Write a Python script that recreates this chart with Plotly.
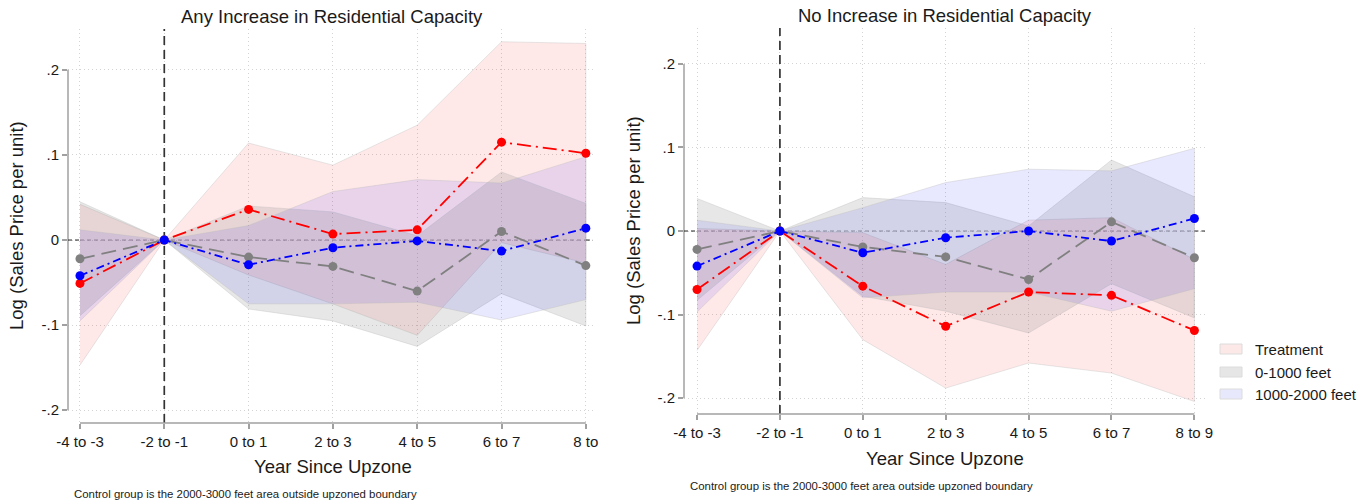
import plotly.graph_objects as go

W, H = 1369, 504

# ---------------- data ----------------
idx = [0, 1, 2, 3, 4, 5, 6]
labels_left = ["-4 to -3", "-2 to -1", "0 to 1", "2 to 3", "4 to 5", "6 to 7", "8 to"]
labels_right = ["-4 to -3", "-2 to -1", "0 to 1", "2 to 3", "4 to 5", "6 to 7", "8 to 9"]
y_tickvals = [-0.2, -0.1, 0, 0.1, 0.2]
y_ticktext = ["-.2", "-.1", "0", ".1", ".2"]

# Any Increase in Residential Capacity
any_treat = [-0.051, 0, 0.036, 0.007, 0.012, 0.115, 0.102]
any_treat_lo = [-0.147, 0, -0.041, -0.075, -0.112, -0.003, -0.027]
any_treat_hi = [0.042, 0, 0.114, 0.088, 0.135, 0.233, 0.231]
any_near = [-0.022, 0, -0.020, -0.031, -0.060, 0.010, -0.030]
any_near_lo = [-0.089, 0, -0.081, -0.095, -0.125, -0.063, -0.101]
any_near_hi = [0.045, 0, 0.040, 0.033, 0.005, 0.080, 0.043]
any_mid = [-0.042, 0, -0.029, -0.009, -0.001, -0.013, 0.014]
any_mid_lo = [-0.095, 0, -0.075, -0.075, -0.073, -0.094, -0.070]
any_mid_hi = [0.012, 0, 0.017, 0.057, 0.071, 0.067, 0.098]

# No Increase in Residential Capacity
no_treat = [-0.070, 0, -0.066, -0.114, -0.073, -0.077, -0.119]
no_treat_lo = [-0.143, 0, -0.130, -0.188, -0.158, -0.170, -0.204]
no_treat_hi = [0.003, 0, -0.002, -0.040, 0.013, 0.016, -0.034]
no_near = [-0.022, 0, -0.019, -0.031, -0.058, 0.011, -0.032]
no_near_lo = [-0.083, 0, -0.078, -0.096, -0.122, -0.063, -0.104]
no_near_hi = [0.039, 0, 0.040, 0.034, 0.006, 0.085, 0.041]
no_mid = [-0.042, 0, -0.026, -0.008, 0.000, -0.012, 0.015]
no_mid_lo = [-0.097, 0, -0.080, -0.073, -0.073, -0.096, -0.069]
no_mid_hi = [0.013, 0, 0.028, 0.058, 0.074, 0.072, 0.099]

series_names = ["Treatment", "0-1000 feet", "1000-2000 feet"]
line_colors = ["#ff0000", "#808080", "#0000ff"]
fill_colors = ["rgba(250,0,0,0.09)", "rgba(128,128,128,0.19)", "rgba(0,0,255,0.09)"]
legend_patch = ["#fde8e8", "#e6e6e6", "#e8e8fd"]
dashes = ["14px,5px,2px,5px", "15px,7px", "8px,4px,2px,4px"]

FONT = "Liberation Sans, Arial, sans-serif"
TXT = "#1a1a1a"


def px_x(p):
    return p / W


def px_y(p):
    return 1 - p / H


left_x = (68, 593)
left_y = (29, 423)
right_x = (684, 1205)
right_y = (28, 414)
xr_left = [-0.142, 6.085]
yr_left = [-0.215, 0.248]
xr_right = [-0.157, 6.128]
yr_right = [-0.219, 0.243]

fig = go.Figure()

panels = [
    ("x", "y", yr_left, [(any_treat, any_treat_lo, any_treat_hi),
                         (any_near, any_near_lo, any_near_hi),
                         (any_mid, any_mid_lo, any_mid_hi)]),
    ("x2", "y2", yr_right, [(no_treat, no_treat_lo, no_treat_hi),
                            (no_near, no_near_lo, no_near_hi),
                            (no_mid, no_mid_lo, no_mid_hi)]),
]

for xa, ya, yr, data in panels:
    # reference lines (drawn above the grid, below the data)
    fig.add_trace(go.Scatter(x=[idx[0], idx[-1]], y=[0, 0], xaxis=xa, yaxis=ya,
                             mode="lines", hoverinfo="skip", showlegend=False,
                             line=dict(color="#9a9a9a", width=1, dash="4px,3px")))
    fig.add_trace(go.Scatter(x=[idx[1], idx[1]], y=yr, xaxis=xa, yaxis=ya,
                             mode="lines", hoverinfo="skip", showlegend=False,
                             line=dict(color="#333333", width=1.7, dash="9px,5px")))
    # bands
    for k, (mid, lo, hi) in enumerate(data):
        fig.add_trace(go.Scatter(
            x=idx + idx[::-1], y=hi + lo[::-1], xaxis=xa, yaxis=ya,
            fill="toself", fillcolor=fill_colors[k],
            line=dict(color="rgba(185,185,185,0.35)", width=1),
            mode="lines", hoverinfo="skip", showlegend=False,
        ))
    # lines
    for k, (mid, lo, hi) in enumerate(data):
        fig.add_trace(go.Scatter(
            x=idx, y=mid, xaxis=xa, yaxis=ya, mode="lines+markers",
            line=dict(color=line_colors[k], width=1.8, dash=dashes[k]),
            marker=dict(color=line_colors[k], size=9),
            name=series_names[k], showlegend=False,
        ))

axis_common = dict(
    showgrid=True, gridcolor="#d4d4d4", griddash="1px,3px", gridwidth=1,
    zeroline=False, showline=False, ticks="outside", ticklen=5,
    tickcolor="#a0a0a0", tickwidth=1.5, automargin=False,
    tickfont=dict(family=FONT, size=15, color=TXT),
)

fig.update_layout(
    width=W, height=H, margin=dict(l=0, r=0, t=0, b=0, autoexpand=False),
    plot_bgcolor="white", paper_bgcolor="white", showlegend=False,
    xaxis=dict(domain=[px_x(left_x[0]), px_x(left_x[1])], range=xr_left,
               tickvals=idx, ticktext=labels_left, anchor="y", **axis_common),
    yaxis=dict(domain=[px_y(left_y[1]), px_y(left_y[0])], range=yr_left,
               tickvals=y_tickvals, ticktext=y_ticktext, anchor="x", **axis_common),
    xaxis2=dict(domain=[px_x(right_x[0]), px_x(right_x[1])], range=xr_right,
                tickvals=idx, ticktext=labels_right, anchor="y2", **axis_common),
    yaxis2=dict(domain=[px_y(right_y[1]), px_y(right_y[0])], range=yr_right,
                tickvals=y_tickvals, ticktext=y_ticktext, anchor="x2", **axis_common),
)

shapes = []
for xa, ya, xr in [("x", "y", xr_left), ("x2", "y2", xr_right)]:
    # axis lines spanning the tick range
    shapes.append(dict(type="line", xref=xa + " domain", x0=0, x1=0, yref=ya,
                       y0=-0.2, y1=0.2, line=dict(color="#a0a0a0", width=1.5)))
    shapes.append(dict(type="line", xref=xa, x0=0, x1=6, yref=ya + " domain",
                       y0=0, y1=0, line=dict(color="#a0a0a0", width=1.5)))
    # dark ends of the zero reference line
    shapes.append(dict(type="line", xref=xa, x0=xr[0], x1=0, yref=ya, y0=0, y1=0,
                       line=dict(color="#222222", width=1, dash="4px,3px")))
    shapes.append(dict(type="line", xref=xa, x0=6, x1=xr[1], yref=ya, y0=0, y1=0,
                       line=dict(color="#222222", width=1, dash="4px,3px")))

# manual legend
leg_rows = [349, 372, 394]
for k, yy in enumerate(leg_rows):
    shapes.append(dict(type="rect", xref="paper", yref="paper",
                       x0=px_x(1220), x1=px_x(1242), y0=px_y(yy + 5), y1=px_y(yy - 5),
                       fillcolor=legend_patch[k], line=dict(color="#dcdcdc", width=1)))

annotations = []
for k, yy in enumerate(leg_rows):
    annotations.append(dict(x=px_x(1253), y=px_y(yy), xref="paper", yref="paper",
                            text=series_names[k], showarrow=False, xanchor="left",
                            yanchor="middle", font=dict(family=FONT, size=15, color=TXT)))

annotations += [
    dict(x=px_x(332), y=px_y(16), text="Any Increase in Residential Capacity",
         font=dict(family=FONT, size=18.5, color=TXT)),
    dict(x=px_x(945), y=px_y(15), text="No Increase in Residential Capacity",
         font=dict(family=FONT, size=18.5, color=TXT)),
    dict(x=px_x(17), y=px_y(226), text="Log (Sales Price per unit)", textangle=-90,
         font=dict(family=FONT, size=18.5, color=TXT)),
    dict(x=px_x(633), y=px_y(221), text="Log (Sales Price per unit)", textangle=-90,
         font=dict(family=FONT, size=18.5, color=TXT)),
    dict(x=px_x(333), y=px_y(466), text="Year Since Upzone",
         font=dict(family=FONT, size=18.5, color=TXT)),
    dict(x=px_x(945), y=px_y(458), text="Year Since Upzone",
         font=dict(family=FONT, size=18.5, color=TXT)),
    dict(x=px_x(72), y=px_y(494), xanchor="left",
         text="Control group is the 2000-3000 feet area outside upzoned boundary",
         font=dict(family=FONT, size=11.4, color=TXT)),
    dict(x=px_x(688), y=px_y(486), xanchor="left",
         text="Control group is the 2000-3000 feet area outside upzoned boundary",
         font=dict(family=FONT, size=11.4, color=TXT)),
]
for a in annotations:
    a.setdefault("xref", "paper")
    a.setdefault("yref", "paper")
    a.setdefault("showarrow", False)
    a.setdefault("yanchor", "middle")
    a.setdefault("xanchor", "center")

fig.update_layout(shapes=shapes, annotations=annotations)
fig.write_html("out.html")
